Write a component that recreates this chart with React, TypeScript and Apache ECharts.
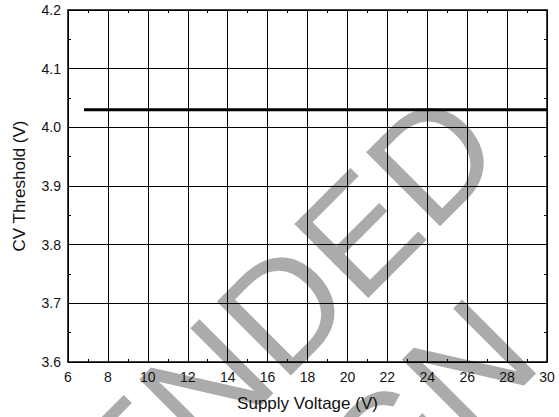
import React, { useEffect, useRef } from "react";
import * as echarts from "echarts";

const supplyVoltage = [6.8, 30];
const cvThreshold = [4.03, 4.03];
const xTicks = { min: 6, max: 30, interval: 2 };
const yTicks = { min: 3.6, max: 4.2, interval: 0.1 };
const watermarkLines = ["NOT RECOMMENDED", "FOR NEW DESIGN"];

const FONT = "'Liberation Sans', Arial, sans-serif";

export default function App() {
  const ref = useRef<HTMLDivElement>(null);
  useEffect(() => {
    if (!ref.current) return;
    const chart = echarts.init(ref.current, undefined, { renderer: "svg" });
    const black = "#000";
    const baseX = {
      type: "value" as const,
      min: xTicks.min,
      max: xTicks.max,
      interval: xTicks.interval,
      axisLine: { show: true, onZero: false, lineStyle: { color: black, width: 1.5 } },
      axisTick: { show: true, inside: true, length: 4, lineStyle: { color: black } },
      minorTick: { show: true, splitNumber: 2, length: 3, lineStyle: { color: black } },
    };
    const baseY = {
      type: "value" as const,
      min: yTicks.min,
      max: yTicks.max,
      interval: yTicks.interval,
      axisLine: { show: true, onZero: false, lineStyle: { color: black, width: 1.5 } },
      axisTick: { show: true, inside: true, length: 4, lineStyle: { color: black } },
      minorTick: { show: true, splitNumber: 2, length: 3, lineStyle: { color: black } },
    };
    chart.setOption({
      animation: false,
      backgroundColor: "#fff",
      textStyle: { fontFamily: FONT },
      grid: { left: 68, right: 12, top: 10, bottom: 55, containLabel: false },
      graphic: [
        {
          type: "text",
          z: -100,
          silent: true,
          x: -28,
          y: 741,
          rotation: Math.PI / 4,
          style: {
            text: watermarkLines.join("\n"),
            font: `152px ${FONT}`,
            fill: "#ababab",
            align: "center",
            verticalAlign: "middle",
            lineHeight: 172,
          },
        },
      ],
      xAxis: [
        {
          ...baseX,
          position: "bottom",
          name: "Supply Voltage (V)",
          nameLocation: "middle",
          nameGap: 33,
          nameTextStyle: { fontSize: 17, color: "#111", fontFamily: FONT },
          axisLabel: { fontSize: 14, color: "#111", margin: 8, fontFamily: FONT },
          splitLine: { show: true, lineStyle: { color: black, width: 1 } },
        },
        {
          ...baseX,
          position: "top",
          axisLabel: { show: false },
          splitLine: { show: false },
        },
      ],
      yAxis: [
        {
          ...baseY,
          position: "left",
          name: "CV Threshold (V)",
          nameLocation: "middle",
          nameGap: 40,
          nameTextStyle: { fontSize: 17, color: "#111", fontFamily: FONT },
          axisLabel: {
            fontSize: 14,
            color: "#111",
            margin: 7,
            fontFamily: FONT,
            formatter: (v: number) => v.toFixed(1),
          },
          splitLine: { show: true, lineStyle: { color: black, width: 1 } },
        },
        {
          ...baseY,
          position: "right",
          axisLabel: { show: false },
          splitLine: { show: false },
        },
      ],
      series: [
        {
          type: "line",
          xAxisIndex: 0,
          yAxisIndex: 0,
          data: supplyVoltage.map((x, i) => [x, cvThreshold[i]]),
          symbol: "none",
          lineStyle: { color: black, width: 3 },
          z: 5,
        },
      ],
    });
    return () => chart.dispose();
  }, []);
  return (
    <div
      ref={ref}
      style={{ position: "fixed", left: 0, top: 0, width: 559, height: 417, background: "#fff" }}
    />
  );
}
